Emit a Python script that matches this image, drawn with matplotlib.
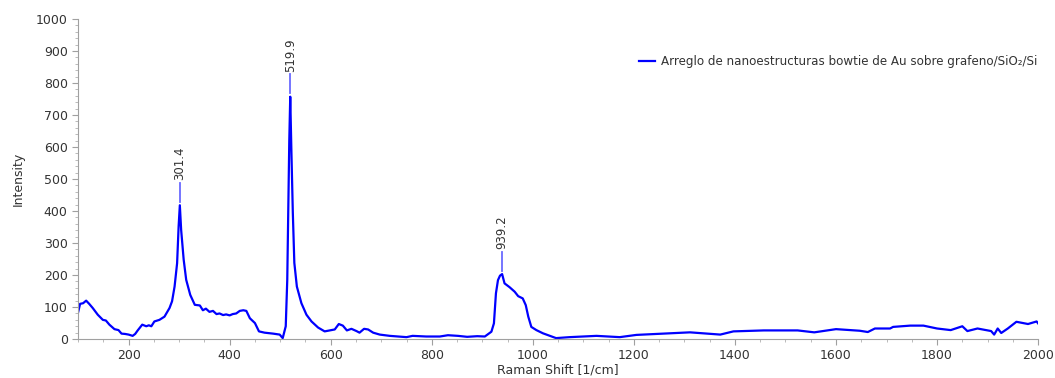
import matplotlib.pyplot as plt
from matplotlib.ticker import MultipleLocator

# Raman spectrum
shift = [100, 104, 110, 116, 122, 129, 139, 149, 155, 162, 172, 180, 186, 193, 200, 208,
         213, 218, 227, 235, 240, 245, 251, 261, 271, 281, 286, 291, 296, 299, 301.4,
         304, 309, 314, 322, 331, 341, 347, 353, 360, 367, 374, 380, 387, 393, 400, 406,
         413, 420, 427, 433, 440, 450, 458, 469, 486, 499, 505, 511, 514, 516, 518, 519.9,
         522, 525, 528, 533, 542, 552, 562, 575, 588, 598, 608, 616, 624, 632, 641, 651,
         657, 666, 674, 684, 697, 717, 750, 762, 789, 816, 832, 852, 870, 890, 905, 918,
         923, 927, 931, 935, 939.2, 944, 954, 964, 971, 980, 986, 991, 997, 1007, 1020,
         1034, 1046, 1073, 1126, 1172, 1205, 1245, 1311, 1371, 1397, 1457, 1524, 1557,
         1600, 1647, 1663, 1677, 1707, 1713, 1747, 1773, 1800, 1827, 1850, 1860, 1880,
         1907, 1913, 1920, 1927, 1940, 1957, 1980, 1997, 2001]
intensity = [83, 110, 112, 120, 110, 97, 76, 60, 58, 45, 31, 28, 17, 16, 14, 10,
             16, 27, 45, 40, 43, 40, 55, 60, 70, 97, 118, 164, 237, 352, 418,
             341, 248, 185, 138, 107, 105, 90, 95, 85, 88, 78, 80, 75, 77, 74, 78,
             80, 88, 90, 88, 65, 50, 24, 20, 17, 14, 3, 40, 185, 395, 620, 757,
             600, 395, 238, 164, 112, 76, 55, 36, 24, 27, 30, 47, 42, 27, 32, 25,
             20, 32, 30, 20, 14, 10, 6, 10, 8, 8, 12, 10, 7, 9, 8, 23,
             49, 143, 184, 198, 203, 174, 162, 148, 134, 127, 106, 70, 38, 28, 18,
             10, 3, 6, 10, 6, 13, 16, 21, 14, 24, 27, 27, 21,
             31, 26, 22, 33, 33, 38, 42, 42, 33, 28, 40, 25, 33,
             25, 14, 33, 19, 33, 54, 47, 55, 47]

peak_pos = [301.4, 519.9, 939.2]
peak_val = [418, 757, 203]
peak_txt = ['301.4', '519.9', '939.2']

fig = plt.figure(figsize=(10.55, 3.78), dpi=100)
ax = fig.add_axes([0.074, 0.103, 0.910, 0.847])

ax.plot(shift, intensity, color='#0000ff', lw=1.6,
        label='Arreglo de nanoestructuras bowtie de Au sobre grafeno/SiO\u2082/Si')

# peak markers: short line above each peak and rotated label
for p, v, t in zip(peak_pos, peak_val, peak_txt):
    ax.plot([p, p], [v + 10, v + 70], color='#6a6aff', lw=1.3)
    ax.text(p, v + 78, t, rotation=90, ha='center', va='bottom',
            fontsize=8.5, color='#333333')

ax.set_xlim(100, 2000)
ax.set_ylim(0, 1000)
ax.xaxis.set_major_locator(MultipleLocator(200))
ax.xaxis.set_minor_locator(MultipleLocator(50))
ax.yaxis.set_major_locator(MultipleLocator(100))
ax.yaxis.set_minor_locator(MultipleLocator(20))

for s in ['top', 'right']:
    ax.spines[s].set_visible(False)
for s in ['left', 'bottom']:
    ax.spines[s].set_color('#a0a0a0')

ax.tick_params(which='major', length=4, color='#a0a0a0', labelsize=9,
               labelcolor='#333333')
ax.tick_params(which='minor', length=2.5, color='#b0b0b0')

ax.set_xlabel('Raman Shift [1/cm]', fontsize=9, color='#333333', labelpad=1)
ax.set_ylabel('Intensity', fontsize=9, color='#333333', labelpad=8)

ax.legend(loc='upper right', bbox_to_anchor=(1.010, 0.92), frameon=False,
          fontsize=8.6, handlelength=1.3, handletextpad=0.5,
          labelcolor='#333333')

fig.savefig('out.png', dpi=100)
